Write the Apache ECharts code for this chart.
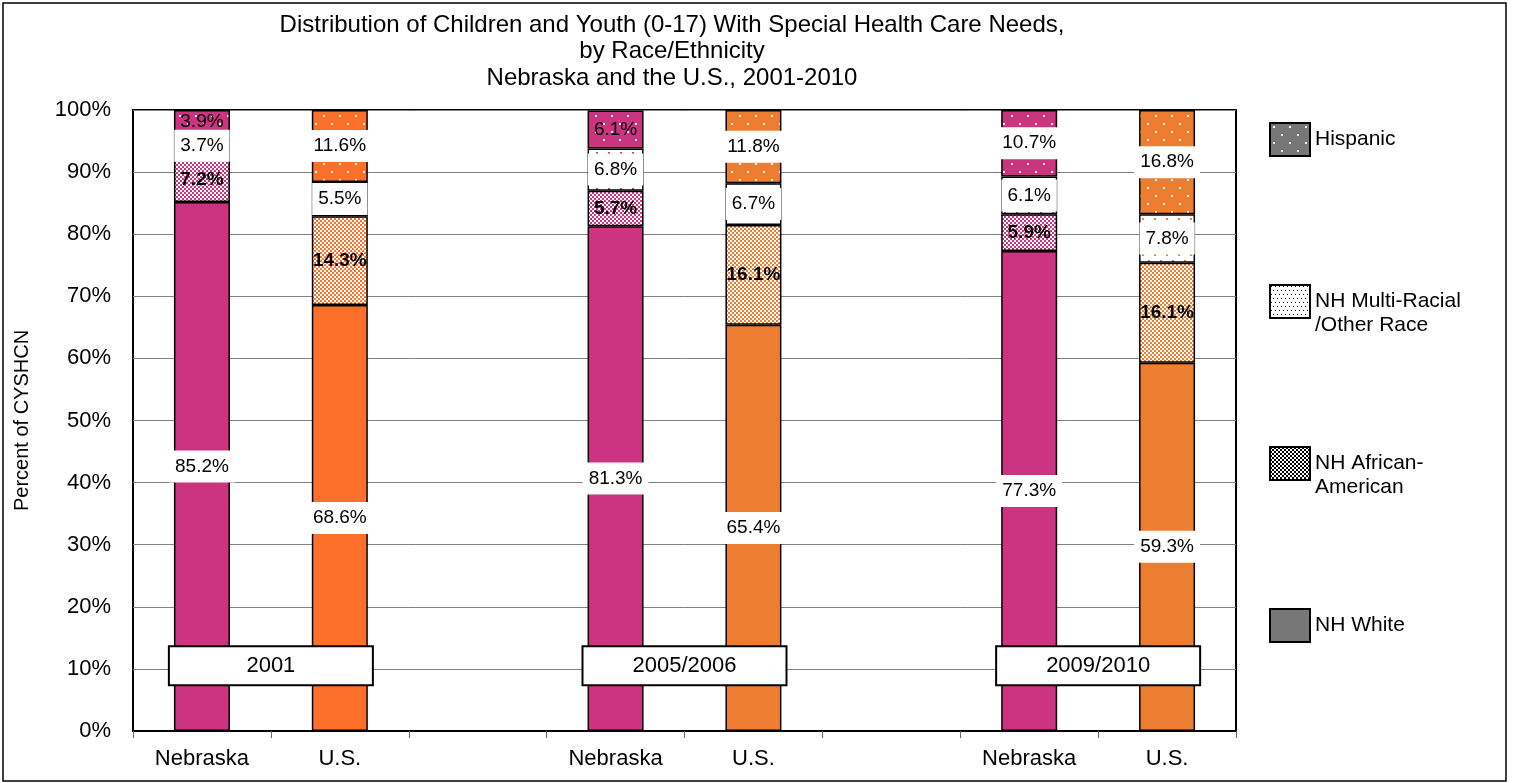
<!DOCTYPE html>
<html><head><meta charset="utf-8">
<script src="https://cdn.jsdelivr.net/npm/echarts@6/dist/echarts.min.js"></script>
<style>html,body{margin:0;padding:0;background:#fff}#c{width:1515px;height:783px}</style>
</head><body><div id="c"></div><script>
// ---------------- data ----------------
const categories = ['Nebraska', 'U.S.', '', 'Nebraska', 'U.S.', '', 'Nebraska', 'U.S.'];
const periods = ['2001', '2005/2006', '2009/2010'];
const nhWhite    = [85.2, 68.6, null, 81.3, 65.4, null, 77.3, 59.3];
const nhAfrican  = [7.2, 14.3, null, 5.7, 16.1, null, 5.9, 16.1];
const nhMulti    = [3.7, 5.5, null, 6.8, 6.7, null, 6.1, 7.8];
const hispanic   = [3.9, 11.6, null, 6.1, 11.8, null, 10.7, 16.8];
const seriesNames = ['NH White', 'NH African-American', 'NH Multi-Racial /Other Race', 'Hispanic'];
const legendLabels = ['NH White', 'NH African-\nAmerican', 'NH Multi-Racial\n/Other Race', 'Hispanic'];
const yTickValues = [0, 10, 20, 30, 40, 50, 60, 70, 80, 90, 100];

// ---------------- styling helpers ----------------
const NE = '#CC3380', US1 = '#FD7029', US2 = '#ED7D31';
function baseColor(i) {
  if (categories[i] === 'Nebraska') return NE;
  return i === 1 ? US1 : US2;
}
function pattern(type, fg, bg) {
  const c = document.createElement('canvas');
  const g = c.getContext('2d');
  if (type === 'dots') {
    c.width = 16; c.height = 16;
    g.fillStyle = bg; g.fillRect(0, 0, 16, 16);
    g.fillStyle = fg; g.fillRect(3, 3, 2, 2); g.fillRect(11, 11, 2, 2);
  } else if (type === 'sparse') {
    c.width = 12; c.height = 12;
    g.fillStyle = bg; g.fillRect(0, 0, 12, 12);
    g.fillStyle = fg; g.fillRect(2, 2, 2, 2); g.fillRect(8, 8, 2, 2);
  } else if (type === 'fine') {
    c.width = 4; c.height = 8;
    g.fillStyle = bg; g.fillRect(0, 0, 4, 8);
    g.fillStyle = fg; g.fillRect(1, 1, 1, 1); g.fillRect(3, 5, 1, 1);
  } else if (type === 'check') {
    c.width = 4; c.height = 4;
    g.fillStyle = bg; g.fillRect(0, 0, 4, 4);
    g.fillStyle = fg; g.fillRect(0, 0, 2, 2); g.fillRect(2, 2, 2, 2);
  }
  return { image: c, repeat: 'repeat' };
}
const FONT = '"Liberation Sans", Arial, sans-serif';
const LBL_SIZE = 19;

const fmt = p => (typeof p.value === 'number' ? p.value.toFixed(1) + '%' : '');

function buildData(values, kind) {
  return values.map((v, i) => {
    if (v === null) return '-';
    const col = baseColor(i);
    let color;
    if (kind === 'solid') color = col;
    else if (kind === 'check') color = pattern('check', col, '#ffffff');
    else if (kind === 'sparse') color = pattern('sparse', col, '#ffffff');
    else color = pattern('dots', '#ffffff', col);
    const item = { value: v, itemStyle: { color: color } };
    if (kind === 'dots' && categories[i] === 'Nebraska' && i < 6) {
      item.label = { backgroundColor: 'transparent' };
    }
    return item;
  });
}

const boxLabel = {
  show: true, position: 'inside', formatter: fmt,
  fontFamily: FONT, fontSize: LBL_SIZE, color: '#000',
  backgroundColor: '#fff', padding: [7, 6, 6, 6]
};
const barCommon = {
  type: 'bar', stack: 'total', barWidth: 56,
  itemStyle: { borderColor: '#000', borderWidth: 1.5 },
  emphasis: { disabled: true }, silent: true, animation: false
};

const series = [
  Object.assign({}, barCommon, { name: seriesNames[0], data: buildData(nhWhite, 'solid'), label: boxLabel }),
  Object.assign({}, barCommon, { name: seriesNames[1], data: buildData(nhAfrican, 'check'),
    label: { show: true, position: 'inside', formatter: fmt, fontFamily: FONT, fontSize: LBL_SIZE, fontWeight: 'bold', color: '#000' } }),
  Object.assign({}, barCommon, { name: seriesNames[2], data: buildData(nhMulti, 'sparse'), label: boxLabel }),
  Object.assign({}, barCommon, { name: seriesNames[3], data: buildData(hispanic, 'dots'), label: boxLabel }),
  {
    type: 'scatter', xAxisIndex: 1, yAxisIndex: 0, symbolSize: 1,
    z: 10, silent: true, animation: false,
    itemStyle: { opacity: 1, color: '#fff' },
    label: {
      show: true, position: 'inside', formatter: p => p.name, fontFamily: FONT, fontSize: 22, color: '#000',
      width: 202, height: 37, lineHeight: 37, align: 'center', verticalAlign: 'middle',
      backgroundColor: '#fff', borderColor: '#000', borderWidth: 2, opacity: 1
    },
    data: periods.map((p, k) => ({ name: p, value: [categories.indexOf('Nebraska', k * 3) + 0.5, 10.5] }))
  }
];

const legendStyles = [
  { color: '#777777' },
  { color: pattern('check', '#000000', '#ffffff') },
  { color: pattern('fine', '#000000', '#ffffff') },
  { color: pattern('dots', '#ffffff', '#777777') }
];
const legendTops = [608, 424.5, 262.5, 122];
const legends = seriesNames.map((n, k) => {
  const multi = legendLabels[k].indexOf('\n') >= 0;
  return {
    data: [{ name: n, icon: 'rect', itemStyle: Object.assign({ borderColor: '#000', borderWidth: 2 }, legendStyles[k]) }],
    left: 1269, top: legendTops[k], padding: 0, orient: 'vertical',
    itemWidth: 40, itemHeight: 33, selectedMode: false,
    formatter: () => (multi ? '\n' : '') + legendLabels[k],
    textStyle: { fontFamily: FONT, fontSize: 21, color: '#000', lineHeight: 24, padding: multi ? [6, 0, 0, 0] : 0 }
  };
});

const chart = echarts.init(document.getElementById('c'));
chart.setOption({
  animation: false,
  backgroundColor: '#fff',
  title: {
    text: 'Distribution of Children and Youth (0-17) With Special Health Care Needs,\nby Race/Ethnicity\nNebraska and the U.S., 2001-2010',
    left: 672, top: 12, padding: 0, textAlign: 'center',
    textStyle: { fontFamily: FONT, fontSize: 24, fontWeight: 'normal', color: '#000', lineHeight: 26.5 }
  },
  legend: legends,
  grid: { left: 133, right: 279, top: 110, bottom: 52, show: true, borderColor: '#000', borderWidth: 2 },
  xAxis: [
    {
      type: 'category', data: categories.map((c, i) => c + '#' + i),
      axisLine: { lineStyle: { color: '#000', width: 2 } },
      axisTick: { show: true, length: 7, lineStyle: { color: '#666' } },
      axisLabel: { interval: 0, formatter: v => v.split('#')[0], fontFamily: FONT, fontSize: 22, color: '#000', margin: 17 }
    },
    { type: 'value', min: -0.5, max: categories.length - 0.5, show: false }
  ],
  yAxis: {
    type: 'value', min: yTickValues[0], max: yTickValues[yTickValues.length - 1], interval: 10,
    name: 'Percent of CYSHCN', nameLocation: 'middle', nameGap: 101,
    nameTextStyle: { fontFamily: FONT, fontSize: 20, color: '#000' },
    axisLine: { show: true, lineStyle: { color: '#000', width: 2 } },
    axisTick: { show: true, length: 6, lineStyle: { color: '#000' } },
    axisLabel: { formatter: '{value}%', fontFamily: FONT, fontSize: 22, color: '#000', margin: 22 },
    splitLine: { lineStyle: { color: '#808080', width: 1 } }
  },
  graphic: [{
    type: 'rect', shape: { x: 3, y: 3, width: 1503, height: 778 },
    style: { fill: 'none', stroke: '#000', lineWidth: 1.5 }, silent: true, z: 100
  }],
  series: series
});
</script></body></html>
